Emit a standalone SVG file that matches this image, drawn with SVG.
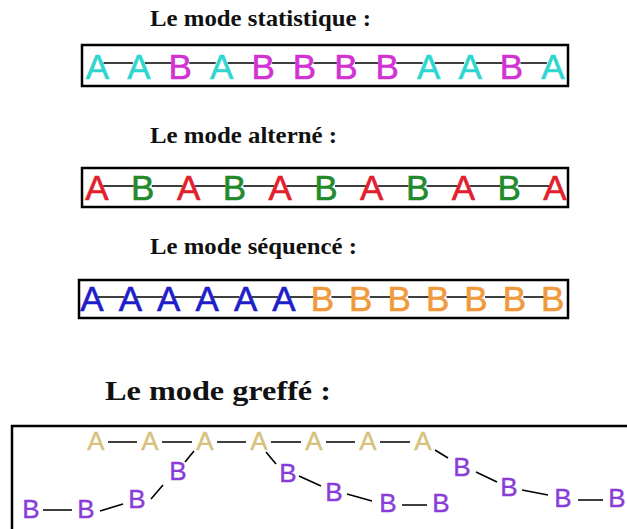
<svg xmlns="http://www.w3.org/2000/svg" width="627" height="529" viewBox="0 0 627 529">
<style>
.t{font-family:"Liberation Serif","Times New Roman",serif;font-weight:bold;fill:#111}
.L{font-family:"Liberation Sans",Arial,sans-serif;text-anchor:middle;font-size:35px;stroke-width:0.6}
.G{font-family:"Liberation Sans",Arial,sans-serif;text-anchor:middle;font-size:26px;stroke-width:0.4}
.box{fill:none;stroke:#000;stroke-width:2.5}
.ln{fill:none;stroke:#000;stroke-width:1.6}
.cy{fill:#2fd6d0;stroke:#2fd6d0}.mg{fill:#d232d2;stroke:#d232d2}.rd{fill:#e2202c;stroke:#e2202c}.gn{fill:#238a2c;stroke:#238a2c}.bl{fill:#1e1ec8;stroke:#1e1ec8}.or{fill:#f09a3c;stroke:#f09a3c}.tn{fill:#d6c27c;stroke:#d6c27c}.pu{fill:#8a3cd8;stroke:#8a3cd8}
</style>
<rect width="627" height="529" fill="#fff"/>
<g id="titles">
<text class="t" x="150" y="26" font-size="23" textLength="221" lengthAdjust="spacingAndGlyphs">Le mode statistique :</text>
<text class="t" x="150" y="143" font-size="23" textLength="187" lengthAdjust="spacingAndGlyphs">Le mode alterné :</text>
<text class="t" x="150" y="254" font-size="23" textLength="207" lengthAdjust="spacingAndGlyphs">Le mode séquencé :</text>
<text class="t" x="105" y="400" font-size="28" textLength="226" lengthAdjust="spacingAndGlyphs">Le mode greffé :</text>
</g>
<g id="frames">
<rect class="box" x="82" y="45" width="486" height="41"/>
<rect class="box" x="82" y="168" width="486" height="39"/>
<rect class="box" x="79" y="280" width="489" height="38"/>
<rect class="box" x="12" y="426" width="630" height="120" stroke-width="3"/>
</g>
<g id="connectors">
<path class="ln" d="M103.5 63H132.9M144.9 63H171.3M189.3 63H215.7M227.7 63H254.1M272.1 63H295.5M313.5 63H336.9M354.9 63H378.3M396.3 63H422.7M434.7 63H464.1M476.1 63H502.5M520.5 63H546.9"/>
<path class="ln" d="M103 186H133.8M151.8 186H182.6M194.6 186H225.4M243.4 186H274.2M286.2 186H317M335 186H365.8M377.8 186H408.6M426.6 186H457.4M469.4 186H500.2M518.2 186H549"/>
<path class="ln" d="M98 297H124.4M136.4 297H162.8M174.8 297H201.2M213.2 297H239.6M251.6 297H278M290 297H313.4M331.4 297H351.8M369.8 297H390.2M408.2 297H428.6M446.6 297H467M485 297H505.4M523.4 297H543.8"/>
<path class="ln" d="M108 442H137M162 442H192M217 442H246M271 442H301M326 442H355M380 442H410"/>
<path class="ln" d="M43 510H72M100 511L123 504M151 499L163 485M185 462L194 451"/>
<path class="ln" d="M266 452L276 464M299 476L321 486M347 494L372 501M402 505H427"/>
<path class="ln" d="M435 450L448 458M476 472L497 482M522 490L548 495M578 500H603"/>
</g>
<g id="statistique">
<text class="L cy" x="97.5" y="79">A</text>
<text class="L cy" x="138.9" y="79">A</text>
<text class="L mg" x="180.3" y="79">B</text>
<text class="L cy" x="221.7" y="79">A</text>
<text class="L mg" x="263.1" y="79">B</text>
<text class="L mg" x="304.5" y="79">B</text>
<text class="L mg" x="345.9" y="79">B</text>
<text class="L mg" x="387.3" y="79">B</text>
<text class="L cy" x="428.7" y="79">A</text>
<text class="L cy" x="470.1" y="79">A</text>
<text class="L mg" x="511.5" y="79">B</text>
<text class="L cy" x="552.9" y="79">A</text>
</g>
<g id="alterne">
<text class="L rd" x="97" y="200">A</text>
<text class="L gn" x="142.8" y="200">B</text>
<text class="L rd" x="188.6" y="200">A</text>
<text class="L gn" x="234.4" y="200">B</text>
<text class="L rd" x="280.2" y="200">A</text>
<text class="L gn" x="326" y="200">B</text>
<text class="L rd" x="371.8" y="200">A</text>
<text class="L gn" x="417.6" y="200">B</text>
<text class="L rd" x="463.4" y="200">A</text>
<text class="L gn" x="509.2" y="200">B</text>
<text class="L rd" x="555" y="200">A</text>
</g>
<g id="sequence">
<text class="L bl" x="92" y="311">A</text>
<text class="L bl" x="130.4" y="311">A</text>
<text class="L bl" x="168.8" y="311">A</text>
<text class="L bl" x="207.2" y="311">A</text>
<text class="L bl" x="245.6" y="311">A</text>
<text class="L bl" x="284" y="311">A</text>
<text class="L or" x="322.4" y="311">B</text>
<text class="L or" x="360.8" y="311">B</text>
<text class="L or" x="399.2" y="311">B</text>
<text class="L or" x="437.6" y="311">B</text>
<text class="L or" x="476" y="311">B</text>
<text class="L or" x="514.4" y="311">B</text>
<text class="L or" x="552.8" y="311">B</text>
</g>
<g id="greffe">
<g id="a-chain">
<text class="G tn" x="96" y="450">A</text>
<text class="G tn" x="150" y="450">A</text>
<text class="G tn" x="205" y="450">A</text>
<text class="G tn" x="259" y="450">A</text>
<text class="G tn" x="314" y="450">A</text>
<text class="G tn" x="368" y="450">A</text>
<text class="G tn" x="423" y="450">A</text>
</g>
<g id="b-left">
<text class="G pu" x="178" y="480">B</text>
<text class="G pu" x="137" y="508">B</text>
<text class="G pu" x="86" y="518">B</text>
<text class="G pu" x="31" y="518">B</text>
</g>
<g id="b-mid">
<text class="G pu" x="288" y="482">B</text>
<text class="G pu" x="334" y="501">B</text>
<text class="G pu" x="388" y="512">B</text>
<text class="G pu" x="441" y="512">B</text>
</g>
<g id="b-right">
<text class="G pu" x="462" y="476">B</text>
<text class="G pu" x="509" y="496">B</text>
<text class="G pu" x="563" y="507">B</text>
<text class="G pu" x="617" y="507">B</text>
</g>
</g>
</svg>
